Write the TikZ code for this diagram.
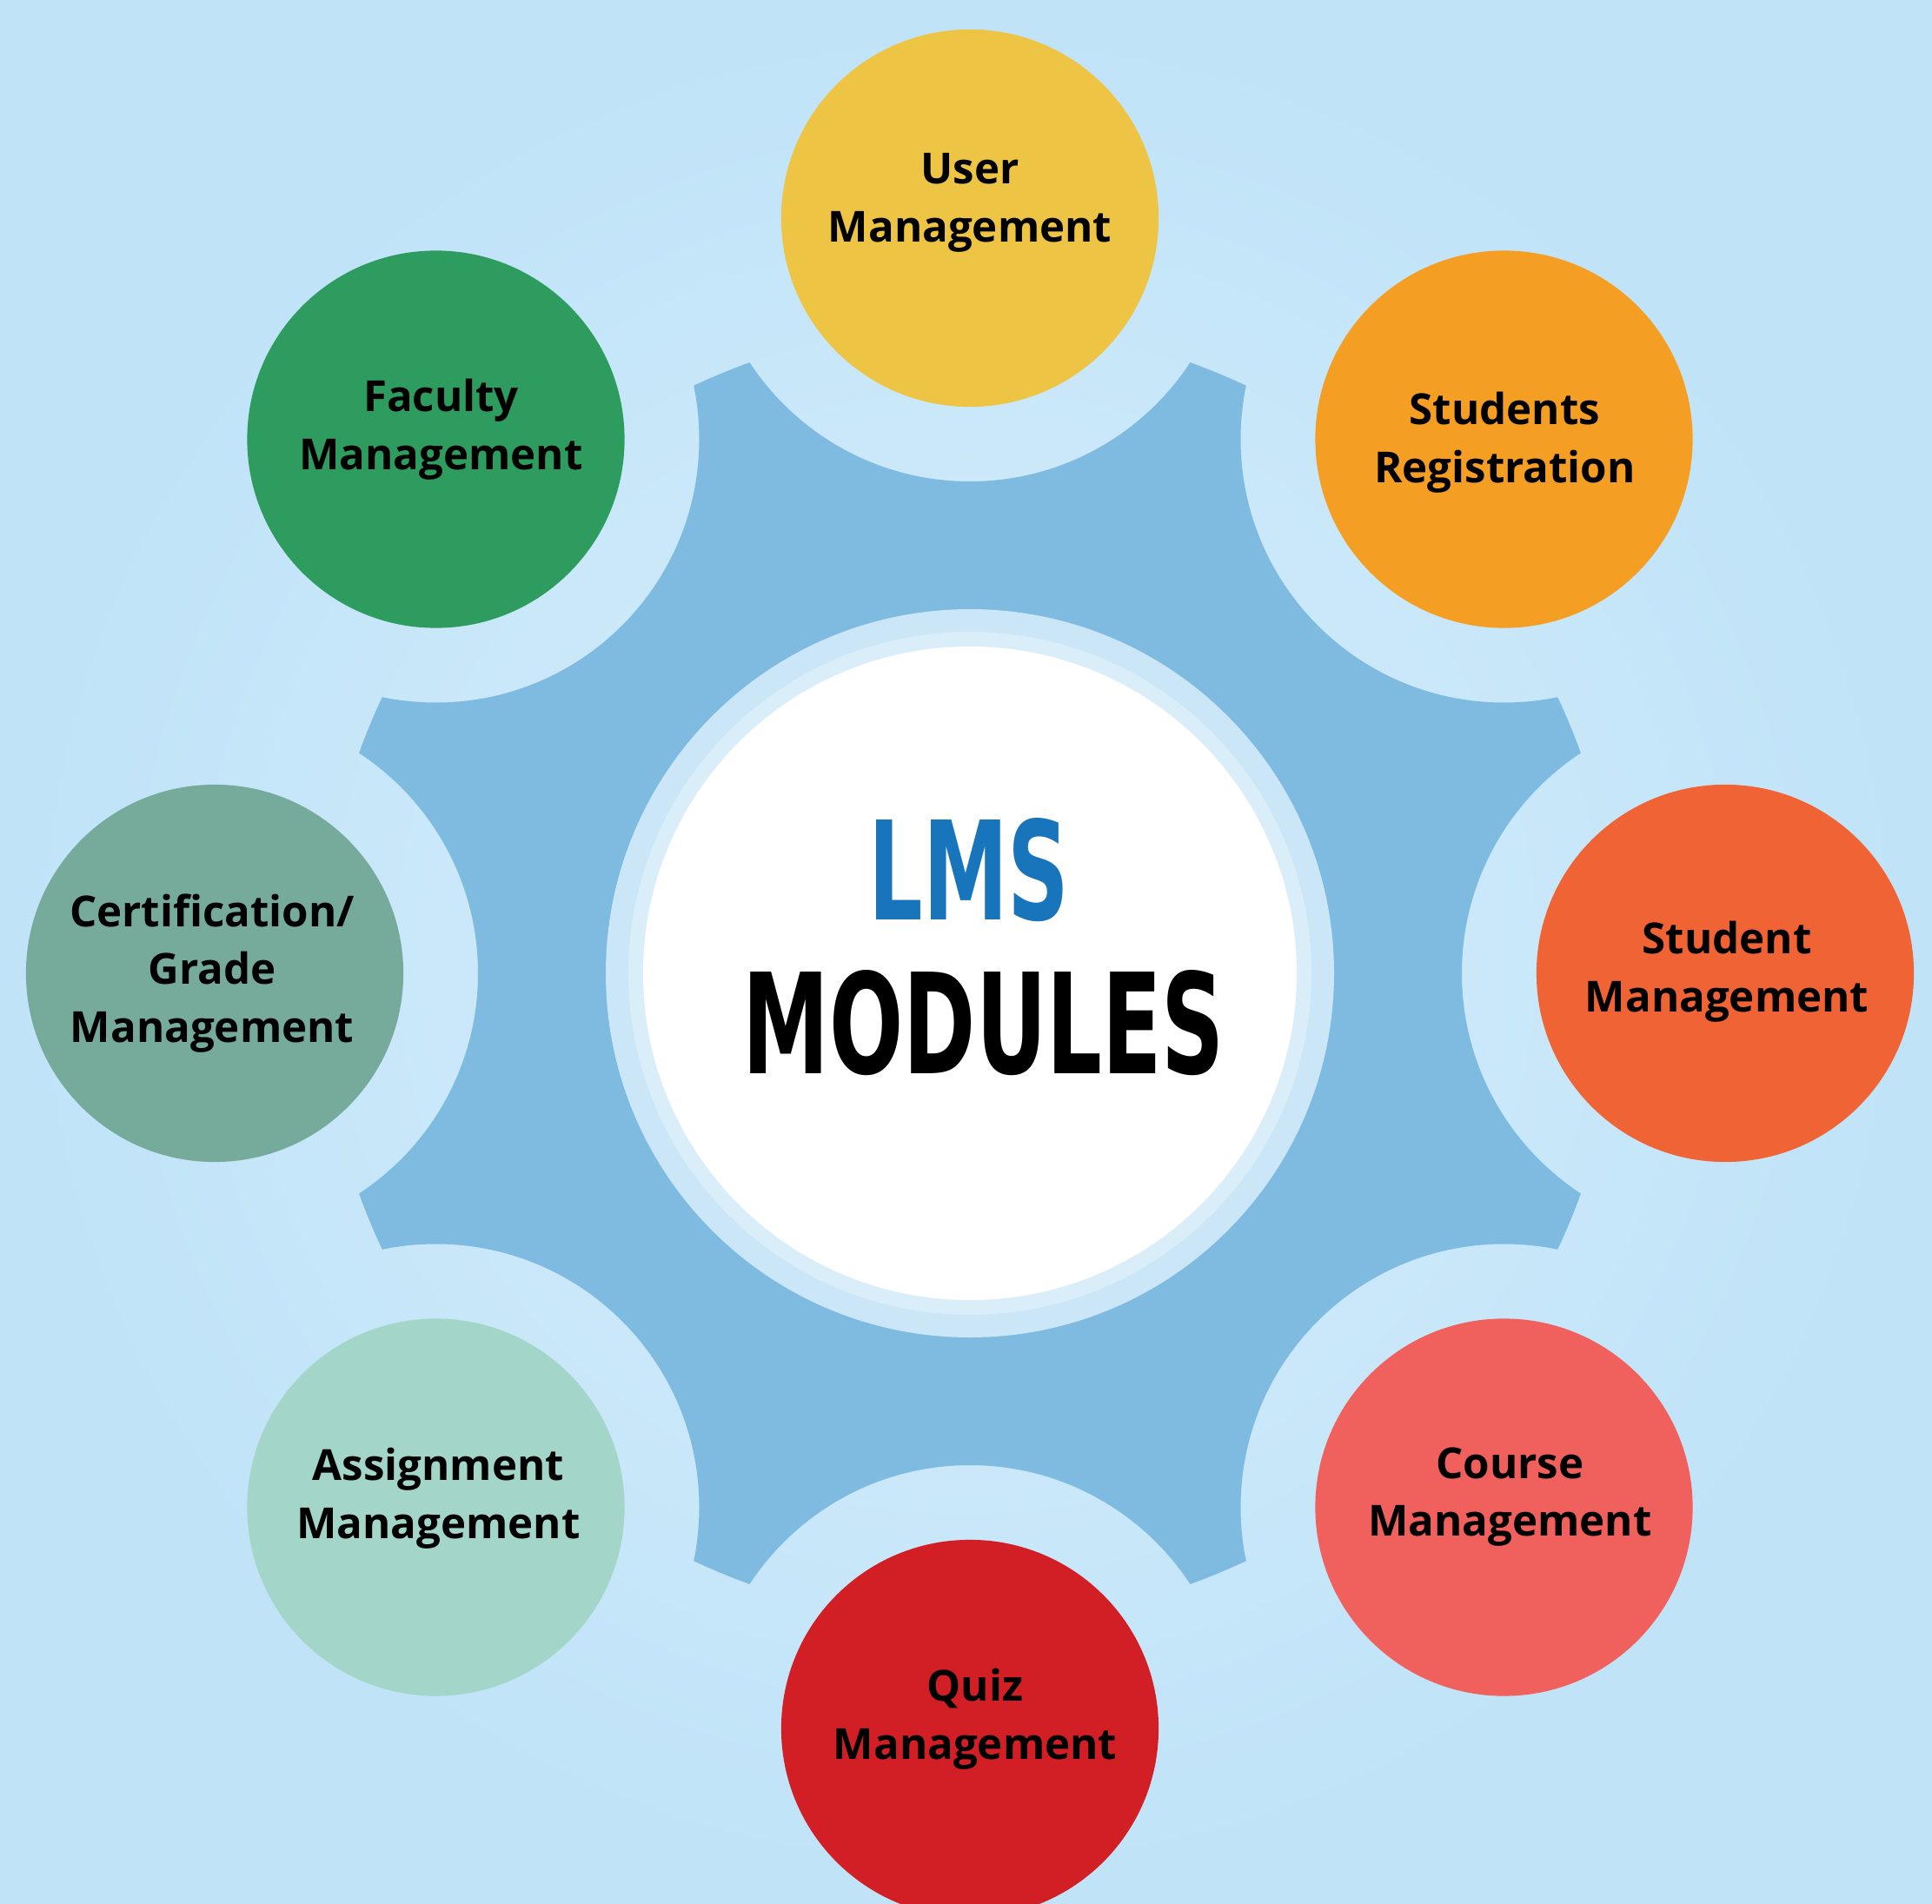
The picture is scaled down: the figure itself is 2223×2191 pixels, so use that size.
\documentclass[tikz,border=0pt]{standalone}
\usepackage{fontspec}
\setmainfont{Open Sans}
\newfontfamily\condfont{DejaVu Sans}
\usepackage{graphicx}
\definecolor{bgin}{HTML}{D6EEFB}
\definecolor{bgout}{HTML}{C0E3F8}
\definecolor{gearblue}{HTML}{7FBBE1}
\definecolor{ringout}{HTML}{CAE6F7}
\definecolor{ringin}{HTML}{DAEEFA}
\definecolor{cuser}{HTML}{EDC444}
\definecolor{creg}{HTML}{F59E24}
\definecolor{csm}{HTML}{F06335}
\definecolor{ccourse}{HTML}{F0605C}
\definecolor{cquiz}{HTML}{D21F26}
\definecolor{cassign}{HTML}{A3D6C8}
\definecolor{ccert}{HTML}{76AA9A}
\definecolor{cfac}{HTML}{2F9C5F}
\definecolor{lmsblue}{HTML}{1874BB}
\tikzset{
  modc/.style={circle, minimum size=4.34cm, inner sep=0pt, draw=none},
  lbl/.style={align=center, inner sep=0pt, text=black,
    font=\bfseries\fontsize{14}{19}\selectfont},
  bigtxt/.style={inner sep=0pt}
}
\begin{document}
\begin{tikzpicture}[x=0.01cm,y=0.01cm]
\useasboundingbox (0,0) rectangle (2223,-2191);
\clip (0,0) rectangle (2223,-2191);
\shade[inner color=bgin, outer color=bgout] (0,0) rectangle (2223,-2191);

\coordinate (C) at (1116,-1120);
\coordinate (pu) at (1116,-251);
\coordinate (pr) at (1730.5,-505.5);
\coordinate (psm) at (1985,-1120);
\coordinate (pc) at (1730.5,-1734.5);
\coordinate (pq) at (1116,-1989);
\coordinate (pa) at (501.5,-1734.5);
\coordinate (pce) at (247,-1120);
\coordinate (pf) at (501.5,-505.5);

% gear: disc of radius 747 with eight round cut-outs
\begin{scope}
  \clip (C) circle (747);
  \fill[gearblue, even odd rule] (C) circle (950)
    (pu) circle (303) (pr) circle (303) (psm) circle (303) (pc) circle (303)
    (pq) circle (303) (pa) circle (303) (pce) circle (303) (pf) circle (303);
\end{scope}

% inner ring
\fill[ringout] (C) circle (419);
\fill[ringin] (C) circle (393);
\fill[white] (C) circle (376);

% module circles
\node[modc, fill=cuser] (u) at (pu) {};
\node[modc, fill=creg] (r) at (pr) {};
\node[modc, fill=csm] (sm) at (psm) {};
\node[modc, fill=ccourse] (c) at (pc) {};
\node[modc, fill=cquiz] (q) at (pq) {};
\node[modc, fill=cassign] (a) at (pa) {};
\node[modc, fill=ccert] (ce) at (pce) {};
\node[modc, fill=cfac] (f) at (pf) {};

% labels
\node[lbl] (tu) at ([shift={(0,18)}]u.center) {User\\Management};
\node[lbl] (tr) at ([shift={(1,-4)}]r.center) {Students\\Registration};
\node[lbl] (tsm) at ([shift={(2,2)}]sm.center) {Student\\Management};
\node[lbl] (tc) at ([shift={(7,12)}]c.center) {Course\\Management};
\node[lbl] (tq) at ([shift={(6,11)}]q.center) {Quiz\\Management};
\node[lbl] (ta) at ([shift={(3,10)}]a.center) {Assignment\\Management};
\node[lbl] (tce) at ([shift={(-3,0)}]ce.center) {Certification/\\Grade\\Management};
\node[lbl] (tf) at ([shift={(6,11)}]f.center) {Faculty\\Management};

% centre title
\node[bigtxt, text=lmsblue] (lms) at (1115,-1001)
  {\resizebox{2.31cm}{1.17cm}{\condfont\bfseries LMS}};
\node[bigtxt, text=black] (mod) at (1132,-1177)
  {\resizebox{5.54cm}{1.19cm}{\condfont\bfseries MODULES}};
\end{tikzpicture}
\end{document}
